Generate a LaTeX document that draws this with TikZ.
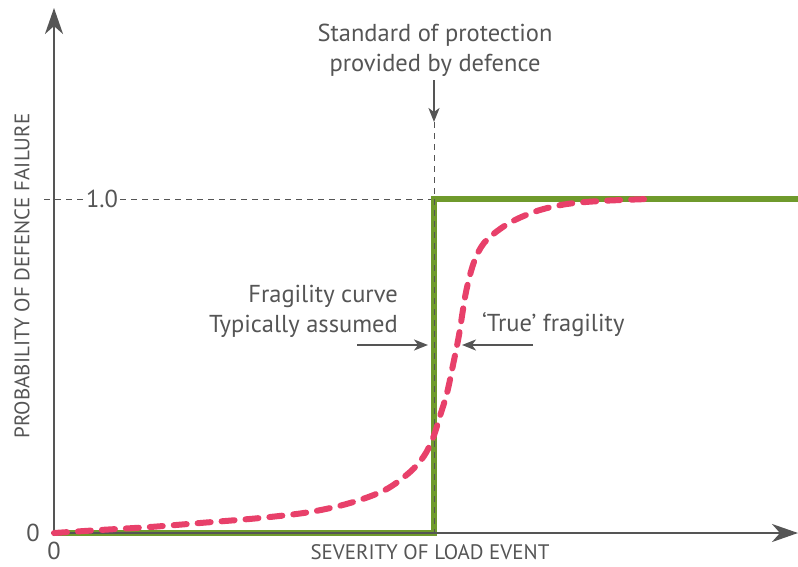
\documentclass[tikz,border=0pt]{standalone}
\usepackage{fontspec}
\setmainfont{PT Sans}
\usetikzlibrary{arrows.meta}
\definecolor{axisgray}{HTML}{555555}
\definecolor{txtgray}{HTML}{555555}
\definecolor{fgreen}{HTML}{6F9A2C}
\definecolor{fpink}{HTML}{E8406A}
\tikzset{
  axisline/.style={draw=axisgray, line width=2.6pt, -{Stealth[length=26pt,width=18pt,inset=8pt]}},
  guide/.style={draw=axisgray, line width=0.9pt, dash pattern=on 6pt off 5pt},
  pointer/.style={draw=axisgray, line width=2pt, -{Stealth[length=14pt,width=11pt,inset=4pt]}},
  lbl/.style={text=txtgray, font=\fontsize{24.5}{30}\selectfont, inner sep=0pt},
  axlbl/.style={text=txtgray, font=\fontsize{21}{24}\selectfont, inner sep=0pt},
}
\begin{document}
\begin{tikzpicture}[x=1pt,y=-1pt]
\useasboundingbox (0,0) rectangle (798,566);
% coordinates
\coordinate (O) at (54,533);
\coordinate (ytop) at (54,8);
\coordinate (xend) at (798,533);
\coordinate (stepB) at (434,533);
\coordinate (stepT) at (434,199);
\coordinate (gEnd) at (800,199);
\coordinate (g1) at (44,199);
\coordinate (arrTop) at (434,80);
\coordinate (arrTip) at (434,122);
% guides
\draw[guide] (g1) -- (84,199);
\draw[guide] (120,199) -- (stepT);
\draw[guide] (arrTip) -- (stepT);
% green step
\draw[fgreen, line width=6pt, line join=miter] (O) -- (stepB) -- (stepT) -- (gEnd);
\draw[guide, line width=0.7pt] (stepT) -- (stepB);
% axes
\draw[axisline] (54,536) -- (ytop);
\draw[axisline] (51,533) -- (xend);
% pink curve
\draw[fpink, line width=6pt, line cap=round, dash pattern=on 13pt off 11pt]
  plot[smooth, tension=0.55] coordinates {(54,533) (100,530) (150,527) (200,523) (260,518) (310,512) (350,503) (385,490) (410,472) (424,456) (433,438) (440,416) (447,393) (453,365) (459,335) (466,292) (474,262) (484,243) (500,229) (517,219) (540,210) (567,204) (600,201) (648,199)};
% standard of protection
\node[lbl, align=center] (sop) at (435,50) {Standard of protection\\provided by defence};
\draw[pointer] (arrTop) -- (arrTip);
% labels
\node[lbl] (one) at (102,199) {1.0};
\node[lbl] (zy) at (33,533) {0};
\node[lbl] (zx) at (54,551) {0};
\node[axlbl] (xl) at (430,552) {SEVERITY OF LOAD EVENT};
\node[axlbl, rotate=90] (yl) at (22,276) {PROBABILITY OF DEFENCE FAILURE};
\node[lbl, align=right, anchor=east] (fc) at (398,311) {Fragility curve\\Typically assumed};
\node[lbl, anchor=west] (tf) at (482,325) {‘True’ fragility};
\coordinate (la) at (357,345);
\coordinate (lt) at (428,345);
\coordinate (ra) at (533,345);
\coordinate (rt) at (462,345);
\draw[pointer] (la) -- (lt);
\draw[pointer] (ra) -- (rt);
\end{tikzpicture}
\end{document}
